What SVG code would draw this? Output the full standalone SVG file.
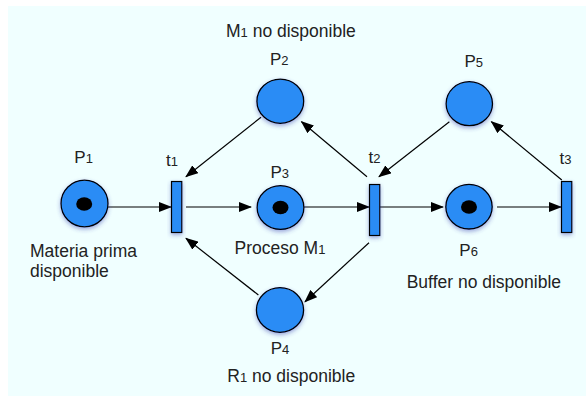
<svg xmlns="http://www.w3.org/2000/svg" width="586" height="396" viewBox="0 0 586 396">
<defs>
<filter id="sh" x="-40%" y="-40%" width="180%" height="180%">
<feDropShadow dx="0" dy="2" stdDeviation="2.2" flood-color="#3040b0" flood-opacity="0.45"/>
</filter>
<marker id="ah" markerWidth="13" markerHeight="10" refX="12" refY="5" orient="auto" markerUnits="userSpaceOnUse">
<path d="M0,0 L13,5 L0,10 Z" fill="#000"/>
</marker>
<style>
.place{fill:#2a8cf5;stroke:#000;stroke-width:1.3;filter:url(#sh)}
.trans{fill:#2a8cf5;stroke:#000;stroke-width:1.2;filter:url(#sh)}
.tok{fill:#000}
.arc{stroke:#000;stroke-width:1.2;fill:none;marker-end:url(#ah)}
text{font-family:"Liberation Sans",Arial,sans-serif;fill:#222}
.lbl{font-size:17px}
.dsc{font-size:17.5px}
.sub{font-size:13px}
</style>
</defs>
<rect x="0" y="0" width="586" height="396" fill="#ffffff"/>
<rect x="8" y="6" width="578" height="390" fill="#f0ffff"/>

<g id="connectors">
<line class="arc" x1="108" y1="207" x2="171" y2="207"/>
<line class="arc" x1="186" y1="207" x2="251" y2="207"/>
<line class="arc" x1="304" y1="207" x2="369" y2="207"/>
<line class="arc" x1="380" y1="207" x2="443" y2="207"/>
<line class="arc" x1="497" y1="207" x2="561" y2="207"/>
<line class="arc" x1="261" y1="117.3" x2="186" y2="176.7"/>
<line class="arc" x1="367" y1="176.7" x2="301.5" y2="121.7"/>
<line class="arc" x1="449.4" y1="121.7" x2="379" y2="176.7"/>
<line class="arc" x1="561.8" y1="180" x2="491.4" y2="121.7"/>
<line class="arc" x1="369" y1="242.7" x2="305" y2="301.7"/>
<line class="arc" x1="258.4" y1="295" x2="186" y2="238.3"/>
</g>

<g id="P1">
<ellipse class="place" cx="84.5" cy="203.5" rx="23.5" ry="23.3"/>
<ellipse class="tok" cx="84.2" cy="204" rx="8" ry="6.8"/>
<text class="lbl" x="74.3" y="162.7">P<tspan class="sub">1</tspan></text>
<text class="dsc" x="30" y="256.7">Materia prima</text>
<text class="dsc" x="30" y="276.5">disponible</text>
</g>

<g id="P2">
<ellipse class="place" cx="280.3" cy="101.2" rx="23.4" ry="22.1"/>
<text class="lbl" x="270" y="65">P<tspan class="sub">2</tspan></text>
<text class="dsc" x="226" y="36.7">M<tspan class="sub">1</tspan> no disponible</text>
</g>

<g id="P3">
<ellipse class="place" cx="280.5" cy="207.5" rx="23.4" ry="21.8"/>
<ellipse class="tok" cx="280.5" cy="207.5" rx="8" ry="6.8"/>
<text class="lbl" x="270.5" y="177.7">P<tspan class="sub">3</tspan></text>
<text class="dsc" x="234.5" y="254">Proceso M<tspan class="sub">1</tspan></text>
</g>

<g id="P4">
<ellipse class="place" cx="280" cy="310" rx="23.6" ry="22.3"/>
<text class="lbl" x="270.7" y="354.3">P<tspan class="sub">4</tspan></text>
<text class="dsc" x="227.3" y="381.7">R<tspan class="sub">1</tspan> no disponible</text>
</g>

<g id="P5">
<ellipse class="place" cx="469.3" cy="103.7" rx="23.2" ry="22"/>
<text class="lbl" x="464.5" y="66.7">P<tspan class="sub">5</tspan></text>
</g>

<g id="P6">
<ellipse class="place" cx="469" cy="206.7" rx="23.2" ry="22.3"/>
<ellipse class="tok" cx="469" cy="207" rx="8" ry="6.8"/>
<text class="lbl" x="459.3" y="256">P<tspan class="sub">6</tspan></text>
<text class="dsc" x="406.7" y="287.7">Buffer no disponible</text>
</g>

<g id="t1">
<rect class="trans" x="171.5" y="181.5" width="10.3" height="51"/>
<text class="lbl" x="166" y="165.7">t<tspan class="sub">1</tspan></text>
</g>

<g id="t2">
<rect class="trans" x="369.5" y="184.5" width="10.3" height="51"/>
<text class="lbl" x="368.5" y="162.7">t<tspan class="sub">2</tspan></text>
</g>

<g id="t3">
<rect class="trans" x="561.5" y="181.5" width="10.3" height="51"/>
<text class="lbl" x="559.5" y="164.3">t<tspan class="sub">3</tspan></text>
</g>
</svg>
